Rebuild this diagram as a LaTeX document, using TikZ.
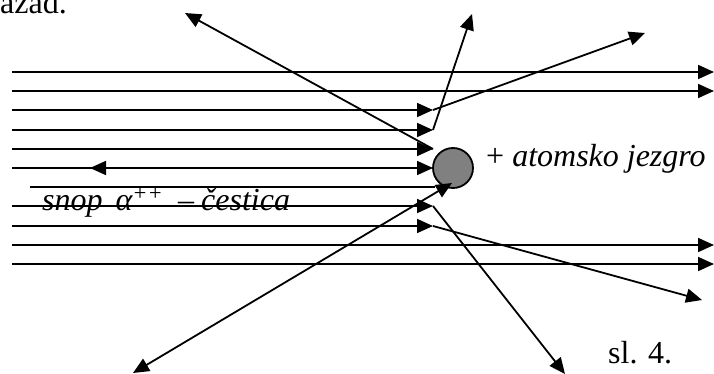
\documentclass[tikz,border=0pt]{standalone}
\usepackage{fontspec}
\setmainfont{Liberation Serif}
\usetikzlibrary{arrows.meta}
\begin{document}
\begin{tikzpicture}[x=1pt,y=-1pt,
  ray/.style={line width=1.8pt},
  arr/.style={ray,-{Triangle[length=16pt,width=14pt]}},
  darr/.style={ray,{Triangle[length=16pt,width=14pt]}-{Triangle[length=16pt,width=14pt]}},
  lbl/.style={inner sep=0pt,font=\fontsize{32}{36}\selectfont}]
\useasboundingbox (0,0) rectangle (714,374);
% nucleus
\node[circle,draw,fill=gray,line width=1.8pt,minimum size=40pt,inner sep=0pt] (nuc) at (453,168) {};
% left ends
\foreach \n/\y in {1/72,2/91,3/110,4/130,5/149,6/168,8/206,9/226,10/245,11/264}
  \coordinate (L\n) at (12,\y);
\coordinate (L7) at (30,187);
% right ends of full rays
\foreach \n/\y in {1/72,2/91,10/245,11/264}
  \coordinate (R\n) at (714,\y);
% stop points of the short rays
\foreach \n/\y in {3/110,4/130,5/149,6/168,8/206,9/226}
  \coordinate (S\n) at (433,\y);
\coordinate (S7) at (435,187);
% full rays
\foreach \n in {1,2,10,11} \draw[arr] (L\n) -- (R\n);
% stopped rays
\foreach \n in {3,4,5,6,8,9} \draw[arr] (L\n) -- (S\n);
\draw[ray] (L7) -- (S7);
% scattered rays
\coordinate (UL) at (185,13);
\coordinate (UP) at (472,14);
\coordinate (UR) at (645,33);
\coordinate (DLa) at (452,183);
\coordinate (DL) at (133,373);
\coordinate (DR1) at (565,374);
\coordinate (DR2) at (702,300);
\draw[arr] (S5) -- (UL);
\draw[arr] (S4) -- (UP);
\draw[arr] (S3) -- (UR);
\draw[darr] (DLa) -- (DL);
\draw[arr] (S8) -- (DR1);
\draw[arr] (S9) -- (DR2);
% backward arrow
\coordinate (B1) at (205,168);
\coordinate (B2) at (90,168);
\draw[arr] (B1) -- (B2);
% labels
\node[lbl,anchor=base west] (nuclab) at (486,167) {+ \textit{atomsko jezgro}};
\node[lbl,anchor=base west] (beam) at (42,210) {\itshape snop\hspace{13pt}α\textsuperscript{++}\hspace{15pt}–\hspace{7pt}čestica};
\node[lbl,anchor=base west] (fig) at (608,363) {sl. 4.};
\node[lbl,anchor=base west] (top) at (0,14) {azad.};
\end{tikzpicture}
\end{document}
